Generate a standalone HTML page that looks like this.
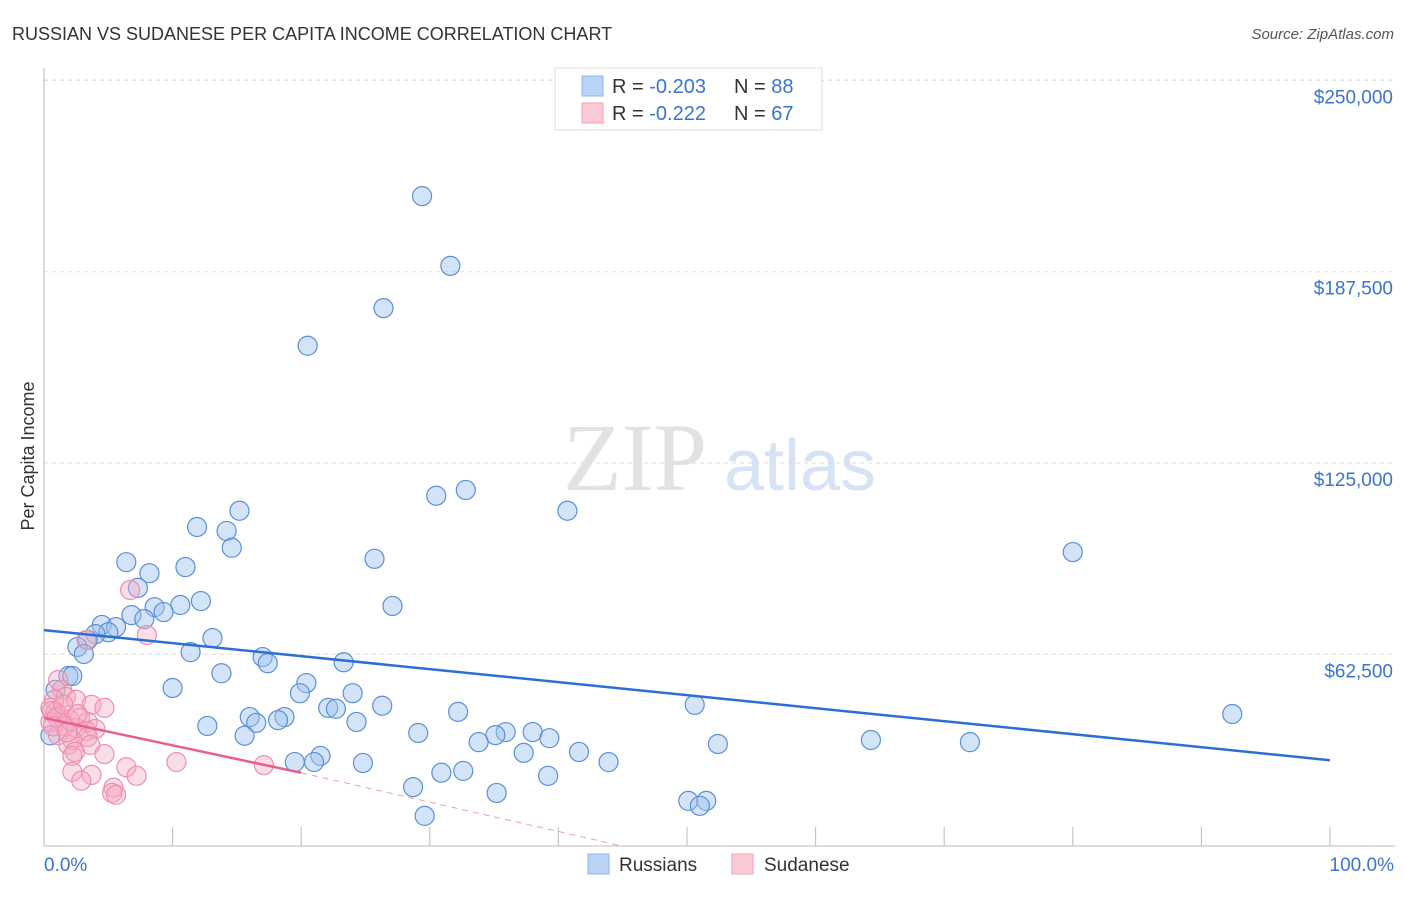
<!DOCTYPE html>
<html><head><meta charset="utf-8"><style>
body{margin:0;background:#fff;font-family:"Liberation Sans",sans-serif}
</style></head><body>
<svg width="1406" height="892" xmlns="http://www.w3.org/2000/svg" id="chart">
<text x="12" y="40" font-size="18" fill="#333">RUSSIAN VS SUDANESE PER CAPITA INCOME CORRELATION CHART</text>
<text x="1394" y="39" font-size="15" fill="#555" font-style="italic" text-anchor="end">Source: ZipAtlas.com</text>
<text x="635" y="490" font-size="96" fill="#e2e2e2" font-family="Liberation Serif,serif" text-anchor="middle">ZIP</text>
<text x="800" y="490" font-size="72" fill="#d6e3f5" text-anchor="middle">atlas</text>
<text transform="translate(34,456) rotate(-90)" font-size="18" fill="#333" text-anchor="middle">Per Capita Income</text>
<g id="grid"></g><g id="axes"></g><g id="pts"></g><g id="lines"></g>
<g>
<rect x="555" y="68" width="267" height="62" fill="#fff" stroke="#ddd"/>
<rect x="582" y="76" width="21" height="20" fill="#b9d3f5" stroke="#8bb4ea"/>
<rect x="582" y="103" width="21" height="20" fill="#fbc8d6" stroke="#f0a0b8"/>
<text x="612" y="93" font-size="20" fill="#333">R = <tspan fill="#3a74d0">-0.203</tspan></text>
<text x="734" y="93" font-size="20" fill="#333">N = <tspan fill="#3a74d0">88</tspan></text>
<text x="612" y="120" font-size="20" fill="#333">R = <tspan fill="#3a74d0"> -0.222</tspan></text>
<text x="734" y="120" font-size="20" fill="#333">N = <tspan fill="#3a74d0">67</tspan></text>
</g>
<g>
<rect x="588" y="854" width="21" height="20" fill="#b9d3f5" stroke="#8bb4ea"/>
<text x="619" y="871" font-size="19" fill="#333">Russians</text>
<rect x="732" y="854" width="21" height="20" fill="#fbc8d6" stroke="#f0a0b8"/>
<text x="764" y="871" font-size="19" fill="#333">Sudanese</text>
</g>
<text x="44" y="871" font-size="19" fill="#3a74d0">0.0%</text>
<text x="1394" y="871" font-size="19" fill="#3a74d0" text-anchor="end">100.0%</text>
</svg>
<script>
const yTicks=[62500,125000,187500,250000];
const yTickLabels=["$62,500","$125,000","$187,500","$250,000"];
const rusX=[29.4,31.6,26.4,20.5,30.5,32.8,40.7,80.0,15.2,11.9,14.2,14.6,25.7,6.4,8.2,11.0,7.3,27.1,12.2,10.6,8.6,9.3,6.8,7.8,4.5,5.6,5.0,4.0,13.1,3.4,2.6,3.1,11.4,17.0,17.4,23.3,13.8,1.9,2.2,10.0,20.4,19.9,24.0,0.9,26.3,50.6,32.2,22.1,22.7,16.0,18.7,18.2,24.3,92.4,12.7,16.5,15.6,29.1,35.9,38.0,35.1,33.8,39.3,64.3,72.0,52.4,41.6,37.3,21.5,19.5,21.0,24.8,43.9,30.9,32.6,39.2,28.7,35.2,50.1,51.5,51.0,29.6,0.5];
const rusY=[212.2,189.4,175.6,163.3,114.3,116.2,109.4,95.9,109.4,104.1,102.8,97.3,93.7,92.6,89.0,91.0,84.2,78.3,79.9,78.6,77.9,76.3,75.3,74.0,72.1,71.4,69.7,69.1,67.8,67.2,64.9,62.6,63.2,61.6,59.6,59.9,56.3,55.4,55.4,51.5,53.1,49.8,49.8,50.9,45.7,46.0,43.7,45.0,44.7,42.0,42.0,41.0,40.4,43.0,39.1,40.1,35.9,36.8,37.1,37.1,36.1,33.8,35.1,34.5,33.8,33.2,30.6,30.3,29.3,27.3,27.3,27.0,27.3,23.8,24.4,22.8,19.1,17.2,14.6,14.6,13.0,9.7,36];
const sudX=[6.7,8.0,3.3,1.1,1.4,1.7,0.8,2.5,0.5,0.9,3.7,4.7,1.2,2.0,2.8,3.4,0.5,1.6,2.5,3.3,4.0,1.1,2.2,3.4,1.9,3.6,2.4,4.7,2.2,10.3,17.1,6.4,2.2,3.7,7.2,2.9,5.4,5.3,5.6,0.6,1.0,1.5,2.6,0.7,1.8];
const sudY=[83.5,68.8,67.2,54.1,50.9,48.6,47.6,47.6,45.0,43.7,46.0,45.0,42.4,41.1,41.7,40.4,40.4,39.1,38.4,37.4,38.1,36.1,34.5,35.5,32.9,32.9,30.6,29.9,29.3,27.3,26.3,25.6,24.1,23.1,22.8,21.2,18.9,17.2,16.6,44,42,46,43,39,37];
const rusTrend=[70.4,27.9];
const sudTrend=[41.7,23.8];
const sudTrendEnd=[20,44.8];
const NS='http://www.w3.org/2000/svg';
const X0=44,X1=1330,Y0=845.6,PX=191.3/62.5;
const sx=v=>X0+(X1-X0)*v/100, sy=k=>Y0-k*PX;
function mk(tag,attrs,parent){const e=document.createElementNS(NS,tag);for(const k in attrs)e.setAttribute(k,attrs[k]);document.getElementById(parent).appendChild(e);return e;}
let e;
yTicks.forEach((t,i)=>{
 e=mk('line',{x1:44,x2:1395,y1:sy(t/1000),y2:sy(t/1000),stroke:'#ddd','stroke-dasharray':'4,4'},'grid');
 
 
 e=mk('text',{x:1393,y:sy(t/1000)+23,'font-size':19,fill:'#3a74d0','text-anchor':'end'},'grid');e.textContent=yTickLabels[i];
 
 
});
e=mk('line',{x1:44,x2:1395,y1:80,y2:80,stroke:'#ddd','stroke-dasharray':'4,4'},'grid');


e=mk('line',{x1:44,x2:44,y1:68,y2:846,stroke:'#bbb'},'axes');


e=mk('line',{x1:44,x2:1395,y1:846,y2:846,stroke:'#bbb'},'axes');


for(let i=1;i<=10;i++){e=mk('line',{x1:sx(i*10),x2:sx(i*10),y1:827,y2:846,stroke:'#bbb'},'axes');
 
 }
rusX.forEach((x,i)=>{e=mk('circle',{cx:sx(x),cy:sy(rusY[i]),r:9.5,fill:'rgba(160,196,240,0.45)',stroke:'#5a8fd8','stroke-width':1.2},'pts');
 
 });
sudX.forEach((x,i)=>{e=mk('circle',{cx:sx(x),cy:sy(sudY[i]),r:9.5,fill:'rgba(245,170,195,0.4)',stroke:'#ec8fae','stroke-width':1.2},'pts');
 
 });
e=mk('line',{x1:sx(0),y1:sy(rusTrend[0]),x2:sx(100),y2:sy(rusTrend[1]),stroke:'#2a6fd6','stroke-width':2.5},'lines');


e=mk('line',{x1:sx(0),y1:sy(sudTrend[0]),x2:sx(sudTrendEnd[0]),y2:sy(sudTrend[1]),stroke:'#e8608a','stroke-width':2.5},'lines');


e=mk('line',{x1:sx(sudTrendEnd[0]),y1:sy(sudTrend[1]),x2:sx(sudTrendEnd[1]),y2:sy(0),stroke:'#e8a0b8','stroke-width':1,'stroke-dasharray':'6,5'},'lines');


</script>
</body></html>
